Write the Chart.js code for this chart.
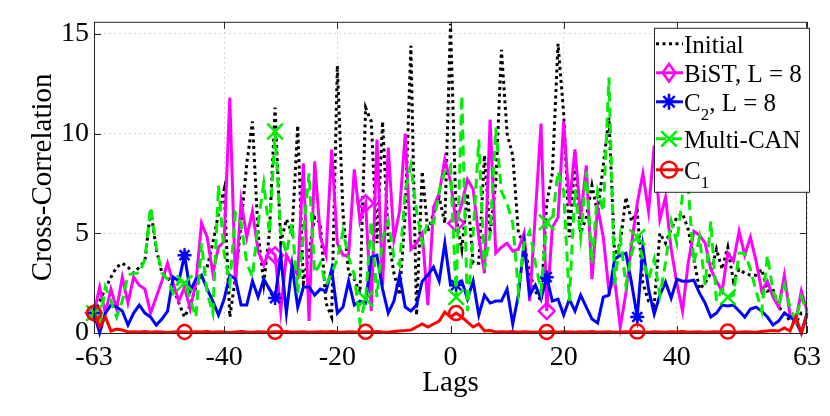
<!DOCTYPE html>
<html>
<head>
<meta charset="utf-8">
<script src="https://cdn.jsdelivr.net/npm/chart.js@4.4.1/dist/chart.umd.min.js"></script>
<style>
  html, body { margin: 0; background: #fff; }
  #wrap { width: 830px; height: 416px; }
</style>
</head>
<body>
<div id="wrap"><canvas id="chart" width="830" height="416"></canvas></div>
<script>
// lags -63 .. 63
const LAGS = Array.from({ length: 127 }, (_, i) => i - 63);
const X_TICKS = [-63, -40, -20, 0, 20, 40, 63];
const Y_TICKS = [0, 5, 10, 15];

const INITIAL = [
    1.0, 1.6, 2.2, 2.8, 3.3, 3.5, 3.3, 3.0, 3.3, 3.6,
    6.2, 4.2, 3.0, 2.8, 2.3, 1.5, 0.8, 1.4, 2.3, 2.8,
    3.3, 4.5, 6.0, 7.2, 0.8, 2.8, 5.5, 8.5, 10.6, 5.0,
    2.5, 5.0, 11.3, 4.5, 5.7, 5.0, 10.4, 2.5, 4.0, 5.8,
    5.5, 1.5, 0.8, 13.4, 6.0, 3.0, 2.7, 2.0, 11.3, 10.6,
    4.5, 10.6, 4.8, 3.0, 1.9, 6.0, 14.4, 0.9, 8.1, 5.1,
    6.0, 6.8, 5.5, 15.5, 5.8, 4.2, 7.0, 3.5, 3.5, 8.9,
    5.0, 7.5, 14.2, 10.0, 8.9, 5.0, 4.5, 3.0, 2.1, 1.6,
    6.5, 8.0, 14.5, 11.0, 4.8, 8.7, 5.0, 5.8, 7.4, 6.0,
    8.4, 10.8, 3.9, 4.5, 6.8, 5.6, 6.1, 2.5, 1.6, 1.4,
    5.0, 4.5, 5.2, 5.8, 6.0, 5.2, 3.7, 2.2, 2.5, 3.0,
    4.2, 3.2, 4.3, 2.6, 3.2, 3.0, 2.9, 2.9, 3.2, 2.1,
    2.2, 1.3, 1.0, 0.6, 0.5, 1.0, 1.0,
];

const BIST = [
    1.0, 2.3, 1.0, 2.2, 1.2, 2.8, 1.5, 2.8, 2.4, 2.2,
    1.0, 1.8, 2.6, 3.5, 2.5, 1.6, 2.3, 1.2, 2.5, 5.5,
    4.8, 3.0, 4.3, 4.6, 11.8, 2.4, 6.6, 4.8, 6.1, 4.1,
    3.4, 4.2, 3.9, 1.1, 3.9, 3.4, 2.9, 8.5, 0.6, 8.6,
    4.8, 3.9, 9.2, 4.5, 3.9, 3.9, 8.2, 5.6, 6.5, 1.1,
    9.7, 2.4, 9.3, 4.7, 6.1, 10.0, 4.2, 4.5, 5.0, 1.4,
    6.3, 7.0, 8.7, 7.6, 5.5, 6.5, 7.7, 7.2, 4.8, 3.0,
    10.7, 4.0, 4.3, 4.5, 4.1, 4.2, 5.0, 1.6, 6.0, 10.5,
    1.1, 5.3, 5.8, 10.6, 6.4, 9.2, 5.8, 8.4, 2.7, 6.3,
    4.8, 2.1, 2.7, 0.3, 2.0, 4.5, 6.5, 8.0, 6.1, 9.4,
    5.7, 6.8, 4.2, 2.5, 1.1, 3.5, 5.1, 4.9, 4.5, 3.2,
    2.6, 2.1, 4.0, 3.6, 5.1, 3.9, 4.8, 3.6, 2.1, 2.6,
    1.8, 1.3, 2.9, 0.9, 0.6, 2.1, 1.1,
];

const C2 = [
    1.0, 0.0, 1.0, 1.4, 1.3, 1.1, 0.4, 1.0, 1.4, 1.0,
    0.8, 0.4, 0.7, 1.1, 2.8, 2.6, 3.9, 2.1, 2.7, 2.9,
    2.2, 1.6, 0.9, 1.7, 2.9, 2.7, 1.4, 1.4, 2.6, 1.8,
    2.7, 2.2, 1.75, 3.9, 1.0, 3.4, 1.3, 2.3, 2.3, 1.9,
    2.2, 2.1, 3.2, 1.0, 1.3, 2.6, 1.4, 1.6, 1.5, 3.8,
    3.9, 2.2, 1.0, 1.6, 2.9, 1.3, 1.1, 1.4, 2.6, 2.9,
    3.3, 2.6, 4.5, 2.4, 2.4, 2.6, 1.7, 2.6, 0.9, 1.9,
    1.5, 1.6, 1.6, 2.2, 0.45, 1.9, 4.5, 1.9, 2.4, 1.7,
    2.8, 1.6, 1.7, 0.9, 1.7, 1.1, 1.9, 1.3, 0.7, 0.5,
    1.8, 1.9, 3.7, 3.9, 4.0, 2.5, 0.8, 4.3, 2.2, 0.95,
    1.9, 2.55, 1.75, 2.7, 2.6, 2.6, 2.65, 2.0, 1.5, 0.8,
    1.0, 1.4, 1.35, 1.4, 1.1, 0.8, 1.2, 1.3, 1.1, 0.8,
    0.4, 0.6, 1.0, 0.8, 0.6, 0.0, 1.0,
];

const MULTI_CAN = [
    1.0, 0.4, 2.3, 1.6, 0.8, 1.6, 2.9, 3.0, 3.0, 3.7,
    6.3, 4.3, 3.0, 2.7, 2.0, 2.6, 2.5, 1.7, 0.8, 4.5,
    2.0, 1.0, 7.4, 4.0, 2.5, 6.0, 5.5, 3.5, 2.8, 5.5,
    7.5, 5.0, 10.1, 5.0, 4.0, 5.5, 2.0, 5.0, 8.0, 3.0,
    3.5, 2.4, 3.0, 3.7, 5.1, 3.8, 2.9, 0.5, 1.7, 5.6,
    1.8, 4.8, 5.6, 3.8, 3.4, 7.1, 8.4, 6.1, 4.5, 5.6,
    5.5, 7.1, 8.1, 8.4, 1.8, 11.9, 1.1, 5.0, 9.7, 3.2,
    5.0, 10.3, 7.1, 6.5, 5.5, 2.1, 4.5, 5.1, 3.5, 2.1,
    5.55, 5.6, 8.1, 7.1, 1.6, 7.2, 4.8, 8.1, 3.5, 7.1,
    6.1, 12.8, 2.4, 4.8, 2.4, 4.0, 4.8, 3.7, 2.7, 3.7,
    1.9, 3.5, 5.6, 4.5, 6.9, 7.3, 3.5, 4.8, 2.4, 5.6,
    1.6, 2.2, 1.8, 1.9, 4.0, 4.0, 3.2, 2.1, 1.1, 3.9,
    2.1, 1.4, 2.4, 1.3, 0.6, 1.8, 1.0,
];

const C1 = [
    1.0, 0.3, 0.8, 0.1, 0.2, 0.15, 0.05, 0.06, 0.05, 0.07,
    0.04, 0.06, 0.05, 0.03, 0.05, 0.06, 0.05, 0.04, 0.06, 0.05,
    0.07, 0.04, 0.06, 0.05, 0.03, 0.05, 0.07, 0.05, 0.04, 0.06,
    0.05, 0.04, 0.06, 0.05, 0.07, 0.04, 0.05, 0.06, 0.04, 0.05,
    0.06, 0.05, 0.07, 0.05, 0.04, 0.06, 0.05, 0.04, 0.06, 0.05,
    0.07, 0.05, 0.04, 0.08, 0.1, 0.12, 0.15, 0.3, 0.45, 0.3,
    0.45, 0.6, 1.05, 0.8, 1.0, 0.8, 0.55, 0.3, 0.45, 0.1,
    0.12, 0.05, 0.06, 0.05, 0.07, 0.04, 0.06, 0.05, 0.04, 0.06,
    0.05, 0.07, 0.04, 0.06, 0.05, 0.04, 0.06, 0.05, 0.07, 0.04,
    0.05, 0.06, 0.04, 0.05, 0.06, 0.05, 0.07, 0.05, 0.04, 0.06,
    0.05, 0.04, 0.06, 0.05, 0.07, 0.04, 0.05, 0.06, 0.04, 0.05,
    0.06, 0.05, 0.07, 0.05, 0.04, 0.06, 0.05, 0.04, 0.08, 0.1,
    0.12, 0.1, 0.25, 0.1, 0.8, 0.0, 0.9,
];

// legend text pieces, second item true = subscript
const LEGEND_LABELS = [
    [['Initial', false]],
    [['BiST, L = 8', false]],
    [['C', false], ['2', true], [', L = 8', false]],
    [['Multi-CAN', false]],
    [['C', false], ['1', true]],
];

// pick the first serif face that is really installed; the sizes below are
// tuned for Times metrics, so wider faces get scaled down a bit
const FONT_CHOICES = [
    ['Liberation Serif', 1], ['Tinos', 1], ['Times New Roman', 1], ['FreeSerif', 1],
    ['Noto Serif', 0.88], ['DejaVu Serif', 0.84], ['Liberation Sans', 0.92],
];

function hasFont(name) {
    const c = document.createElement('canvas').getContext('2d');
    const s = 'Cross-Correlation 0123456789 BiST';
    return ['monospace', 'sans-serif'].some((fb) => {
        c.font = `40px ${fb}`;
        const base = c.measureText(s).width;
        c.font = `40px "${name}", ${fb}`;
        return Math.abs(c.measureText(s).width - base) > 0.5;
    });
}

const [FACE, FONT_SCALE] = FONT_CHOICES.find(([name]) => hasFont(name)) || ['sans-serif', 0.92];
const FONT = `"${FACE}", serif`;
const fs = (px) => Math.round(px * FONT_SCALE);

const AXIS_COLOR = '#262626';

// marker positions (data indices) that show in the original
const EVERY_16 = [0, 16, 32, 48, 64, 80, 96, 112];
const STYLES = [
    { color: '#000000', dash: [3, 3.5], marker: null, size: 0, marks: [], order: 5 },
    { color: '#ff00ff', dash: [], marker: 'rectRot', size: 8, marks: [0, 32, 48, 64, 80], order: 4 },
    { color: '#0000ff', dash: [], marker: 'star', size: 7, marks: [0, 16, 32, 64, 80, 96], order: 3 },
    { color: '#00ee00', dash: [10, 6], marker: 'crossRot', size: 11, marks: EVERY_16, order: 2 },
    { color: '#ff0000', dash: [], marker: 'circle', size: 7, marks: EVERY_16, order: 1 },
];

function makeDataset(label, values, st) {
    return {
        label,
        data: LAGS.map((x, i) => ({ x, y: values[i] })),
        borderColor: st.color,
        borderWidth: 3,
        borderDash: st.dash,
        borderCapStyle: 'butt',
        tension: 0,
        clip: false,
        order: st.order,
        pointStyle: st.marker || 'circle',
        pointRadius: (c) => (st.marks.includes(c.dataIndex) ? st.size : 0),
        pointHoverRadius: 0,
        pointBorderWidth: 2.5,
        pointBorderColor: st.color,
        pointBackgroundColor: 'rgba(0,0,0,0)',
    };
}

// axes box with inward ticks, like the original
const frame = {
    id: 'frame',
    afterDatasetsDraw(chart) {
        const { ctx, chartArea: a, scales: { x, y } } = chart;
        ctx.save();
        ctx.strokeStyle = AXIS_COLOR;
        ctx.lineWidth = 1;
        ctx.setLineDash([]);
        ctx.strokeRect(a.left + 0.5, a.top + 0.5, a.right - a.left - 1, a.bottom - a.top);
        ctx.beginPath();
        X_TICKS.forEach((v) => {
            const px = Math.round(x.getPixelForValue(v)) + 0.5;
            ctx.moveTo(px, a.bottom); ctx.lineTo(px, a.bottom - 7);
            ctx.moveTo(px, a.top); ctx.lineTo(px, a.top + 7);
        });
        Y_TICKS.forEach((v) => {
            const py = Math.round(y.getPixelForValue(v)) + 0.5;
            ctx.moveTo(a.left, py); ctx.lineTo(a.left + 7, py);
            ctx.moveTo(a.right, py); ctx.lineTo(a.right - 7, py);
        });
        ctx.stroke();
        ctx.restore();
    },
};

function drawMarker(ctx, type, cx, cy, r) {
    ctx.beginPath();
    if (type === 'rectRot') {
        ctx.moveTo(cx - r * 0.8, cy); ctx.lineTo(cx, cy - r * 1.1);
        ctx.lineTo(cx + r * 0.8, cy); ctx.lineTo(cx, cy + r * 1.1);
        ctx.closePath();
    } else if (type === 'star') {
        for (let k = 0; k < 4; k++) {
            const ang = k * Math.PI / 4;
            ctx.moveTo(cx - Math.cos(ang) * r, cy - Math.sin(ang) * r);
            ctx.lineTo(cx + Math.cos(ang) * r, cy + Math.sin(ang) * r);
        }
    } else if (type === 'crossRot') {
        const d = r * 0.7;
        ctx.moveTo(cx - d, cy - d); ctx.lineTo(cx + d, cy + d);
        ctx.moveTo(cx + d, cy - d); ctx.lineTo(cx - d, cy + d);
    } else if (type === 'circle') {
        ctx.arc(cx, cy, r, 0, Math.PI * 2);
    }
    ctx.stroke();
}

const ROW_OFFSETS = [16, 45, 74, 111, 142];

const legendBox = {
    id: 'legendBox',
    afterDraw(chart) {
        const { ctx, chartArea: a } = chart;
        const box = { left: a.right - 153, top: a.top + 6, right: a.right + 2, bottom: a.top + 170 };
        ctx.save();
        ctx.fillStyle = '#fff';
        ctx.fillRect(box.left, box.top, box.right - box.left, box.bottom - box.top);
        ctx.strokeStyle = AXIS_COLOR;
        ctx.lineWidth = 1;
        ctx.strokeRect(box.left + 0.5, box.top + 0.5, box.right - box.left, box.bottom - box.top);

        chart.data.datasets.forEach((ds, i) => {
            const st = STYLES[i];
            const cy = box.top + ROW_OFFSETS[i];
            ctx.strokeStyle = st.color;
            ctx.lineWidth = 3;
            ctx.setLineDash(st.dash);
            ctx.beginPath();
            ctx.moveTo(box.left + 2, cy);
            ctx.lineTo(box.left + 29, cy);
            ctx.stroke();
            ctx.setLineDash([]);
            ctx.lineWidth = 2.5;
            if (st.marker) drawMarker(ctx, st.marker, box.left + 15, cy, st.marker === 'crossRot' ? 11 : 8);

            let tx = box.left + 30;
            const base = cy + 9;
            ctx.fillStyle = '#000';
            ctx.textBaseline = 'alphabetic';
            ctx.textAlign = 'left';
            LEGEND_LABELS[i].forEach(([txt, sub]) => {
                ctx.font = sub ? `${fs(17)}px ${FONT}` : `${fs(25)}px ${FONT}`;
                ctx.fillText(txt, tx, sub ? base + 9 : base);
                tx += ctx.measureText(txt).width;
            });
        });
        ctx.restore();
    },
};

new Chart(document.getElementById('chart'), {
    type: 'line',
    data: {
        datasets: [
            makeDataset('Initial', INITIAL, STYLES[0]),
            makeDataset('BiST, L = 8', BIST, STYLES[1]),
            makeDataset('C2, L = 8', C2, STYLES[2]),
            makeDataset('Multi-CAN', MULTI_CAN, STYLES[3]),
            makeDataset('C1', C1, STYLES[4]),
        ],
    },
    options: {
        responsive: false,
        animation: false,
        events: [],
        layout: { padding: { left: 0, right: 23, top: 12, bottom: 0 } },
        plugins: { legend: { display: false }, tooltip: { enabled: false } },
        scales: {
            x: {
                type: 'linear',
                min: -63,
                max: 63,
                afterBuildTicks: (s) => { s.ticks = X_TICKS.map((value) => ({ value })); },
                afterFit: (s) => { s.height = 83; },
                ticks: {
                    autoSkip: false,
                    maxRotation: 0,
                    padding: 8,
                    color: '#000',
                    font: { family: FONT, size: fs(28) },
                    callback: (v) => String(v),
                },
                grid: { color: '#d4d4d4', drawTicks: false },
                border: { display: false, dash: [2, 3] },
                title: {
                    display: true,
                    text: 'Lags',
                    color: '#000',
                    font: { family: FONT, size: fs(29) },
                    padding: { top: 0, bottom: 15 },
                },
            },
            y: {
                min: 0,
                max: 15.6,
                afterBuildTicks: (s) => { s.ticks = Y_TICKS.map((value) => ({ value })); },
                afterFit: (s) => { s.width = 94; },
                ticks: {
                    padding: 5,
                    color: '#000',
                    font: { family: FONT, size: fs(28) },
                },
                grid: { color: '#d4d4d4', drawTicks: false },
                border: { display: false, dash: [2, 3] },
                title: {
                    display: true,
                    text: 'Cross-Correlation',
                    color: '#000',
                    font: { family: FONT, size: fs(29) },
                    padding: { top: 26, bottom: 0 },
                },
            },
        },
    },
    plugins: [frame, legendBox],
});
</script>
</body>
</html>
